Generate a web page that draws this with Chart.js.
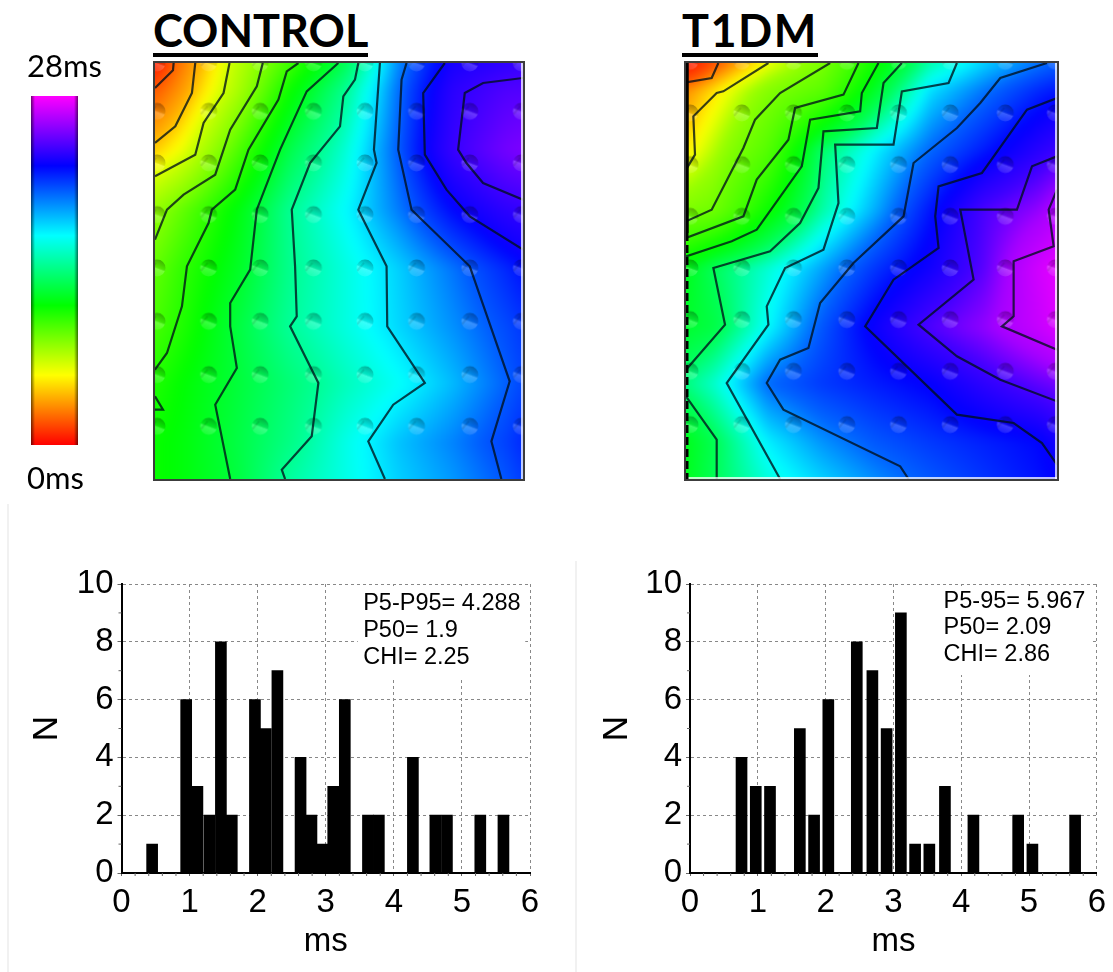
<!DOCTYPE html>
<html><head><meta charset="utf-8">
<style>
html,body{margin:0;padding:0;background:#fff;width:1113px;height:972px;overflow:hidden}
canvas{position:absolute}
.title{position:absolute;font:700 45px Lato,sans-serif;color:#000;line-height:46px;border-bottom:4px solid #000;letter-spacing:0;white-space:nowrap}
.rule{position:absolute;background:#f1f1f1;width:2px}
</style>
<script src="https://cdn.jsdelivr.net/npm/chart.js@4/dist/chart.umd.min.js"></script>
</head><body>
<div class="title" style="left:153px;top:7px">CONTROL</div>
<div class="title" style="left:682px;top:7px;letter-spacing:1.5px">T1DM</div>
<div class="rule" style="left:7px;top:504px;height:468px"></div>
<div class="rule" style="left:575px;top:561px;height:411px"></div>
<canvas id="scale" width="110" height="450" style="left:10px;top:45px"></canvas>
<canvas id="mapA" width="372" height="420" style="left:153px;top:61px"></canvas>
<canvas id="mapB" width="375" height="420" style="left:684px;top:61px"></canvas>
<canvas id="histA" width="530" height="410" style="left:20px;top:560px"></canvas>
<canvas id="histB" width="523" height="410" style="left:590px;top:560px"></canvas>
<script>
// ---------- histograms ----------
const controlBins   = [0.45,0.95,1.115,1.29,1.46,1.62,1.96,2.12,2.29,2.63,2.79,2.95,3.11,3.28,3.62,3.78,4.28,4.61,4.78,5.27,5.61];
const controlCounts = [1,6,3,2,8,2,6,5,7,4,2,1,3,6,2,2,4,2,2,2,2];
const t1dmBins      = [0.76,0.97,1.18,1.62,1.83,2.04,2.46,2.69,2.90,3.11,3.32,3.53,3.76,4.18,4.84,5.05,5.68];
const t1dmCounts    = [4,3,3,5,2,6,8,7,5,9,1,1,3,2,2,1,2];
const controlStats  = ['P5-P95= 4.288','P50= 1.9','CHI= 2.25'];
const t1dmStats     = ['P5-95= 5.967','P50= 2.09','CHI= 2.86'];

// ---------- colour scale ----------
const scaleTicks  = ['28ms','0ms'];
const scaleRange  = [0,28];
const rainbow     = [[255,0,0],[255,255,0],[0,255,0],[0,255,255],[0,0,255],[255,0,255]];

// ---------- activation maps: value grid (ms-like level units) ----------
const controlGridX = [14,96,258,420,582,744,906,1068,1120];
const t1dmGridX    = [18,100,262,424,586,748,910,1072,1130];
const gridY        = [10,90,270,450,625,800,970,1145,1258];
const controlGrid = [
 [0.5,2.8,6.4,9.5,12.6,17.3,20.4,21.3,21.6],
 [2.0,3.5,6.8,10.7,13.8,17.7,21.1,22.6,22.7],
 [4.4,5.5,9.0,12.5,14.9,18.0,21.6,24.0,24.4],
 [7.5,8.7,11.1,13.9,15.6,17.5,19.6,21.2,21.5],
 [8.7,9.8,11.6,13.8,15.1,16.3,17.6,19.0,19.5],
 [9.3,10.2,12.2,14.0,15.1,16.2,17.2,18.3,18.7],
 [10.2,10.9,12.1,13.3,14.5,15.5,16.6,17.9,18.4],
 [10.7,11.1,12.3,13.6,15.2,16.5,17.4,18.5,19.0],
 [10.7,11.1,12.2,14.1,15.2,16.3,17.1,18.1,18.6]];
const t1dmGrid = [
 [0.3,1.8,4.0,5.7,9.7,13.0,14.6,15.8,16.2],
 [2.6,3.5,5.5,6.9,11.0,14.4,15.8,17.2,17.6],
 [3.6,4.7,7.2,12.2,14.2,16.0,17.5,19.2,19.8],
 [5.7,6.1,9.7,12.9,15.1,17.6,20.2,21.6,22.6],
 [10.6,12.0,13.5,15.2,17.0,18.5,20.5,24.0,25.0],
 [11.0,11.5,14.0,16.3,18.4,20.3,21.6,23.5,24.5],
 [12.5,13.4,16.0,16.9,17.5,18.1,19.4,20.6,21.0],
 [10.6,11.8,14.2,15.4,16.3,16.9,17.4,17.9,18.6],
 [10.7,11.9,13.6,14.6,15.5,16.3,17.0,17.7,18.0]];
// value -> position on the colour bar
const controlRamp = [[0,0],[2,.07],[4,.14],[6,.24],[8,.30],[10,.37],[12,.44],[14,.52],[16,.62],[18,.73],[20,.81],[22,.85],[25,.91]];
const t1dmRamp    = [[0,0],[2,.07],[3,.14],[4,.21],[5,.28],[6,.31],[8,.35],[10,.40],[12,.47],[14,.60],[16,.72],[18,.80],[20,.85],[22,.93],[25,.98]];

// isochrones digitised in map units
const controlContours = [
 [[70,10],[68,32],[14,85]],
 [[135,10],[125,100],[75,200],[14,250]],
 [[238,10],[220,100],[160,190],[135,285],[14,350]],
 [[338,10],[320,80],[240,210],[195,345],[100,405],[50,450],[14,540]],
 [[445,10],[410,35],[385,120],[295,270],[255,390],[185,450],[175,490],[110,620],[95,740],[50,880],[14,930]],
 [[14,1010],[38,1050],[14,1050]],
 [[565,10],[470,95],[390,270],[320,450],[300,630],[240,730],[240,800],[260,925],[195,1035],[240,1258]],
 [[625,10],[615,60],[580,110],[570,200],[480,310],[425,450],[435,620],[440,770],[420,800],[505,970],[485,1130],[395,1230],[405,1258]],
 [[690,10],[672,270],[680,310],[625,450],[710,620],[712,800],[825,970],[730,1035],[655,1145],[705,1258]],
 [[770,10],[755,60],[745,270],[785,450],[960,620],[1080,965],[1025,1145],[1055,1258]],
 [[885,10],[820,100],[825,285],[890,390],[960,470],[1120,570]],
 [[1120,55],[1000,70],[945,100],[925,270],[950,310],[1000,370],[1120,420]]];
const t1dmContours = [
 [[115,10],[95,55],[18,68]],
 [[265,10],[130,95],[110,100],[40,170],[45,285],[18,330]],
 [[450,10],[300,100],[225,180],[190,265],[95,450],[18,485]],
 [[535,10],[490,105],[345,145],[325,240],[230,360],[190,470],[18,535]],
 [[595,10],[545,100],[540,155],[390,180],[365,320],[230,510],[155,545],[18,590]],
 [[665,10],[610,70],[590,205],[430,215],[415,385],[360,490],[270,575],[100,625],[135,795],[18,930]],
 [[18,1010],[110,1140],[110,1258]],
 [[830,10],[805,70],[665,95],[640,255],[465,255],[475,430],[430,570],[315,625],[260,740],[265,795],[140,970],[300,1258]],
 [[1100,10],[960,55],[900,130],[830,205],[700,310],[670,470],[520,610],[420,730],[385,865],[300,900],[260,970],[310,1050],[660,1220],[685,1258]],
 [[1130,115],[1040,150],[905,340],[775,380],[765,470],[775,565],[640,660],[555,800],[830,1065],[1000,1090],[1085,1150],[1130,1215]],
 [[1130,290],[1055,320],[1010,450],[840,450],[880,660],[715,795],[830,890],[960,960],[1130,1025]],
 [[1130,390],[1105,450],[1120,560],[1000,605],[1000,770],[965,800],[1130,870]]];
// electrode positions in map units
const controlElecX = [20,175,330,490,645,800,960,1115];
const t1dmElecX    = [30,185,340,500,655,810,975,1125];
const controlElecY = [10,155,310,465,625,785,945,1100];
const t1dmElecY    = [5,160,315,470,625,780,935,1095];

// ---------- helpers ----------
Chart.defaults.animation = false;
Chart.defaults.responsive = false;
Chart.defaults.maintainAspectRatio = false;
Chart.defaults.plugins.legend.display = false;
Chart.defaults.plugins.tooltip.enabled = false;

function rampColor(f){
  f = Math.max(0,Math.min(1,f))*(rainbow.length-1);
  const i = Math.min(rainbow.length-2,Math.floor(f)), t = f-i;
  const a = rainbow[i], b = rainbow[i+1];
  return [a[0]+(b[0]-a[0])*t, a[1]+(b[1]-a[1])*t, a[2]+(b[2]-a[2])*t];
}
function segLookup(arr,v){
  let i = 0;
  while(i<arr.length-2 && v>arr[i+1]) i++;
  let t = (v-arr[i])/(arr[i+1]-arr[i]);
  return [i,Math.max(0,Math.min(1,t))];
}
function toFraction(ramp,v){
  for(let i=0;i<ramp.length-1;i++){
    if(v<=ramp[i+1][0]){
      const t=(v-ramp[i][0])/(ramp[i+1][0]-ramp[i][0]);
      return ramp[i][1]+(ramp[i+1][1]-ramp[i][1])*Math.max(0,t);
    }
  }
  const n=ramp.length-1;
  return ramp[n][1]+(v-ramp[n][0])*(ramp[n][1]-ramp[n-1][1])/(ramp[n][0]-ramp[n-1][0]);
}
function heatPlugin(gx,gy,grid,ramp,leftBlack){
  return {
    id:'heat',
    beforeDatasetsDraw(chart){
      const {ctx,chartArea:a,scales:{x,y}} = chart;
      const m = 14, w = Math.round(a.width)+2*m, h = Math.round(a.height)+2*m;
      const off = document.createElement('canvas'); off.width=w; off.height=h;
      const oc = off.getContext('2d'), img = oc.createImageData(w,h);
      for(let py=0;py<h;py++){
        const vy = y.getValueForPixel(a.top+py-m);
        const [r,tr] = segLookup(gy,vy);
        for(let px=0;px<w;px++){
          const vx = x.getValueForPixel(a.left+px-m);
          const [c,tc] = segLookup(gx,vx);
          const v = (grid[r][c]*(1-tc)+grid[r][c+1]*tc)*(1-tr)+(grid[r+1][c]*(1-tc)+grid[r+1][c+1]*tc)*tr;
          const col = rampColor(toFraction(ramp,v));
          const k = (py*w+px)*4;
          img.data[k]=col[0]; img.data[k+1]=col[1]; img.data[k+2]=col[2]; img.data[k+3]=255;
        }
      }
      oc.putImageData(img,0,0);
      ctx.save();
      ctx.beginPath(); ctx.rect(a.left,a.top,a.width,a.height); ctx.clip();
      ctx.filter='blur(5px)';
      ctx.drawImage(off,a.left-m,a.top-m);
      ctx.restore();
    },
    afterDraw(chart){
      const {ctx,chartArea:a} = chart;
      ctx.save();
      ctx.strokeStyle='#fff'; ctx.lineWidth=1.5;
      ctx.beginPath();
      ctx.moveTo(a.right-1,a.top); ctx.lineTo(a.right-1,a.bottom);
      if(leftBlack){ ctx.moveTo(a.left,a.bottom-1); ctx.lineTo(a.right,a.bottom-1); }
      ctx.stroke();
      if(leftBlack){
        ctx.strokeStyle='#000'; ctx.lineWidth=3.5;
        ctx.beginPath(); ctx.moveTo(a.left+1,a.top); ctx.lineTo(a.left+1,a.top+170); ctx.stroke();
        ctx.setLineDash([8,4]); ctx.lineWidth=3;
        ctx.beginPath(); ctx.moveTo(a.left+1,a.top+170); ctx.lineTo(a.left+1,a.bottom); ctx.stroke();
        ctx.setLineDash([]);
      }
      ctx.strokeStyle='#3c3c3c'; ctx.lineWidth=2;
      ctx.strokeRect(a.left-1,a.top-1,a.width+2,a.height+2);
      ctx.restore();
    }
  };
}
function dimple(){
  const s=20,c=document.createElement('canvas'); c.width=s; c.height=s;
  const g=c.getContext('2d');
  g.translate(s/2,s/2);
  g.beginPath(); g.arc(0,0,8.5,0,Math.PI*2); g.clip();
  const lg=g.createLinearGradient(3,-8,-3,8);
  lg.addColorStop(0,'rgba(0,0,0,.30)');
  lg.addColorStop(.42,'rgba(0,0,0,.10)');
  lg.addColorStop(.55,'rgba(255,255,255,.22)');
  lg.addColorStop(1,'rgba(255,255,255,.10)');
  g.fillStyle=lg; g.fillRect(-10,-10,20,20);
  g.strokeStyle='rgba(0,0,0,.10)'; g.lineWidth=2;
  g.beginPath(); g.moveTo(-8,3); g.lineTo(-1,-5); g.stroke();
  return c;
}
const dimpleImg = dimple();

function makeMap(id,gx,grid,ramp,contours,ex,ey,isT1){
  const points=[]; ey.forEach(y=>ex.forEach(x=>points.push({x,y})));
  new Chart(document.getElementById(id),{
    type:'scatter',
    data:{datasets:[
      {label:'electrodes',data:points,pointStyle:dimpleImg,pointRadius:9,clip:0,order:2},
      ...contours.map((c,i)=>({label:'isochrone '+(i+1),data:c.map(p=>({x:p[0],y:p[1]})),showLine:true,
        borderColor:'rgba(0,15,25,.78)',borderWidth:2.2,tension:0,pointRadius:0,order:1}))
    ]},
    options:{
      layout:{padding:2,autoPadding:false},
      scales:{
        x:{type:'linear',display:false,min:gx[0],max:gx[gx.length-1]},
        y:{type:'linear',display:false,reverse:true,min:gridY[0],max:gridY[gridY.length-1]}
      }
    },
    plugins:[heatPlugin(gx,gridY,grid,ramp,isT1)]
  });
}
makeMap('mapA',controlGridX,controlGrid,controlRamp,controlContours,controlElecX,controlElecY,false);
makeMap('mapB',t1dmGridX,t1dmGrid,t1dmRamp,t1dmContours,t1dmElecX,t1dmElecY,true);

// colour bar
new Chart(document.getElementById('scale'),{
  type:'bar',
  data:{labels:['ms'],datasets:[{data:[scaleRange],
    backgroundColor(c){
      const a=c.chart.chartArea; if(!a) return '#000';
      const g=c.chart.ctx.createLinearGradient(0,a.bottom,0,a.top);
      rainbow.forEach((r,i)=>g.addColorStop(i/(rainbow.length-1),`rgb(${r})`));
      return g;
    },barPercentage:1,categoryPercentage:1}]},
  options:{
    layout:{padding:{left:21,right:42,top:51,bottom:50}},
    scales:{x:{display:false},y:{display:false,min:scaleRange[0],max:scaleRange[1]}}
  },
  plugins:[{id:'edges',afterDatasetsDraw(chart){
    const {ctx,chartArea:a}=chart;
    const l=ctx.createLinearGradient(a.left,0,a.left+4,0);
    l.addColorStop(0,'rgba(0,0,0,.55)'); l.addColorStop(1,'rgba(0,0,0,0)');
    ctx.fillStyle=l; ctx.fillRect(a.left,a.top,4,a.height);
    const r=ctx.createLinearGradient(a.right,0,a.right-4,0);
    r.addColorStop(0,'rgba(0,0,0,.55)'); r.addColorStop(1,'rgba(0,0,0,0)');
    ctx.fillStyle=r; ctx.fillRect(a.right-4,a.top,4,a.height);
    ctx.fillStyle='#000'; ctx.font='31px Lato'; ctx.textBaseline='alphabetic'; ctx.textAlign='left';
    ctx.fillText(scaleTicks[0],17,32);
    ctx.fillText(scaleTicks[1],17,444);
  }}]
});

// histograms
function makeHist(id,bins,counts,stats,o){
  new Chart(document.getElementById(id),{
    type:'bar',
    data:{datasets:[{label:'N',data:bins.map((b,i)=>({x:b,y:counts[i]})),backgroundColor:'#000',barThickness:11,borderWidth:0,grouped:false}]},
    options:{
      layout:{padding:{top:o.top,right:o.right,left:0,bottom:8}},
      scales:{
        x:{type:'linear',min:0,max:6,offset:false,
          ticks:{stepSize:1,font:{family:'"Liberation Sans"',size:33},color:'#000',padding:7,maxRotation:0},
          grid:{offset:false,color:'#888',tickColor:'#666',tickLength:3,lineWidth:1},
          border:{color:'#000',width:2,dash:[3,3]},
          title:{display:true,text:'ms',font:{family:'"Liberation Sans"',size:33},color:'#000',padding:{top:0,bottom:0}},
          afterFit(s){s.height=o.xH}},
        y:{type:'linear',min:0,max:10,
          ticks:{stepSize:2,font:{family:'"Liberation Sans"',size:33},color:'#000',padding:4},
          grid:{color:'#888',tickColor:'#666',tickLength:4,lineWidth:1},
          border:{color:'#000',width:2,dash:[3,3]},
          title:{display:true,text:'N',font:{family:'"Liberation Sans"',size:35},color:'#000',padding:{top:6,bottom:0}},
          afterFit(s){s.width=o.yW}}
      }
    },
    plugins:[{id:'notes',
      beforeDatasetsDraw(chart){
        const {ctx,scales:{x,y}}=chart;
        ctx.save(); ctx.fillStyle='#fff';
        const l=x.getPixelForValue(o.box[0]),r=x.getPixelForValue(o.box[1]),t=y.getPixelForValue(o.box[3]),b=y.getPixelForValue(o.box[2]);
        ctx.fillRect(l,t,r-l,b-t);
        ctx.strokeStyle='#666'; ctx.lineWidth=1; ctx.beginPath();
        for(let k=0;k<=30;k++){ if(k%5){const p=x.left+(x.right-x.left)*k/30; ctx.moveTo(p,x.top); ctx.lineTo(p,x.top+3);} }
        for(let k=1;k<10;k+=2){ const p=y.getPixelForValue(k); ctx.moveTo(y.right-3,p); ctx.lineTo(y.right,p); }
        ctx.stroke(); ctx.restore();
      },
      afterDraw(chart){
        const {ctx,scales:{x,y}}=chart;
        ctx.save(); ctx.fillStyle='#000'; ctx.font='23.5px "Liberation Sans"'; ctx.textBaseline='middle'; ctx.textAlign='left';
        stats.forEach((s,i)=>ctx.fillText(s,x.getPixelForValue(o.note[0]),y.getPixelForValue(o.note[1])+i*o.lead));
        ctx.restore();
      }}]
  });
}
makeHist('histA',controlBins,controlCounts,controlStats,{top:24,right:20,xH:89,yW:101.5,box:[3.47,5.93,6.71,9.93],note:[3.55,9.34],lead:27});
makeHist('histB',t1dmBins,t1dmCounts,t1dmStats,{top:24,right:15.3,xH:89,yW:100,box:[3.17,5.92,6.85,9.93],note:[3.74,9.41],lead:26.5});
</script>
</body></html>
